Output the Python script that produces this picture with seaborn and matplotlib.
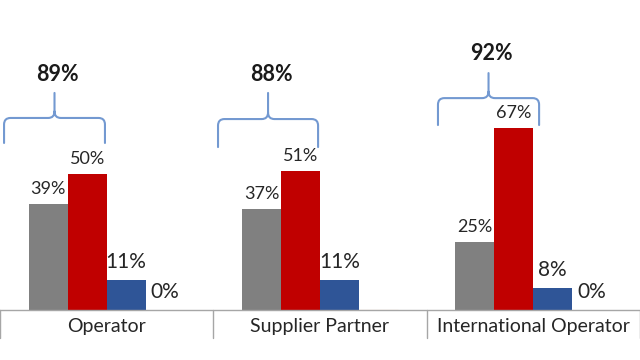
import matplotlib
matplotlib.use("Agg")
import matplotlib.pyplot as plt
import seaborn as sns
import pandas as pd
from matplotlib.path import Path
from matplotlib.patches import PathPatch
import matplotlib.transforms as mtransforms

# ---- data ----
categories = ["Operator", "Supplier Partner", "International Operator"]
series_names = ["Series 1", "Series 2", "Series 3", "Series 4"]
gray_vals = [39, 37, 25]
red_vals = [50, 51, 67]
blue_vals = [11, 11, 8]
fourth_vals = [0, 0, 0]
fourth_labels = ["0%", "", "0%"]
totals = [89, 88, 92]
colors = ["#808080", "#c00000", "#2f5597", "#f4b183"]

rows = []
for name, vals in zip(series_names, [gray_vals, red_vals, blue_vals, fourth_vals]):
    for c, v in zip(categories, vals):
        rows.append({"category": c, "series": name, "value": v})
df = pd.DataFrame(rows)

sns.set_style("white")
plt.rcParams["font.family"] = ["Lato", "DejaVu Sans"]

fig = plt.figure(figsize=(6.4, 3.6), dpi=100)
ax = fig.add_axes([0.0, 50 / 360, 1.0, 272 / 360])

sns.barplot(data=df, x="category", y="value", hue="series", order=categories,
            hue_order=series_names, palette=colors, width=0.73, saturation=1,
            errorbar=None, legend=False, linewidth=0, ax=ax)

ax.set_xlim(-0.5, 2.5)
ax.set_ylim(0, 100)
ax.set_xlabel("")
ax.set_ylabel("")
ax.set_yticks([])
for s in ["top", "right", "left"]:
    ax.spines[s].set_visible(False)
ax.spines["bottom"].set_color("#a6a6a6")
ax.spines["bottom"].set_linewidth(1.0)
ax.tick_params(axis="x", length=0, pad=5.5, labelsize=14, labelcolor="#262626")

# orange hairline for 4th series in middle group
cont4 = ax.containers[3]
for i, p in enumerate(cont4.patches):
    p.set_edgecolor("#f4b183" if i == 1 else "none")
    p.set_linewidth(0.8 if i == 1 else 0)

# value labels
lab_col = "#262626"
ax.bar_label(ax.containers[0], labels=[f"{v}%" for v in gray_vals], padding=5,
             fontsize=13, color=lab_col)
ax.bar_label(ax.containers[1], labels=[f"{v}%" for v in red_vals], padding=5,
             fontsize=13, color=lab_col)
ax.bar_label(ax.containers[2], labels=[f"{v}%" for v in blue_vals], padding=6,
             fontsize=15, color=lab_col)
ax.bar_label(ax.containers[3], labels=fourth_labels, padding=6,
             fontsize=15, color=lab_col)

# category separators
trans = mtransforms.blended_transform_factory(ax.transData, ax.transAxes)
for xb in [-0.5, 0.5, 1.5, 2.5]:
    ax.plot([xb, xb], [0, -28 / 272], transform=trans, color="#a6a6a6",
            lw=1.0, clip_on=False)


def brace(x0, x1, y_end, y_h, y_tip, rx=0.03, ry=2.4):
    xc = (x0 + x1) / 2
    verts = [
        (x0, y_end), (x0, y_h - ry),
        (x0, y_h), (x0 + rx, y_h),
        (xc - rx, y_h),
        (xc, y_h), (xc, y_h + ry),
        (xc, y_tip),
        (xc, y_h + ry),
        (xc, y_h), (xc + rx, y_h),
        (x1 - rx, y_h),
        (x1, y_h), (x1, y_h - ry),
        (x1, y_end),
    ]
    codes = [Path.MOVETO, Path.LINETO,
             Path.CURVE3, Path.CURVE3,
             Path.LINETO,
             Path.CURVE3, Path.CURVE3,
             Path.LINETO,
             Path.MOVETO,
             Path.CURVE3, Path.CURVE3,
             Path.LINETO,
             Path.CURVE3, Path.CURVE3,
             Path.LINETO]
    patch = PathPatch(Path(verts, codes), fill=False, edgecolor="#7399d1",
                      lw=1.5, clip_on=False, capstyle="round", joinstyle="round")
    ax.add_patch(patch)


brace_specs = [
    (-0.481, -0.008, 61.4, 70.6, 79.8),
    (0.522, 0.991, 59.9, 70.2, 79.8),
    (1.553, 2.027, 68.0, 77.9, 87.1),
]
text_y = [86.6, 86.6, 94.3]
for (x0, x1, ye, yh, yt), tot, ty in zip(brace_specs, totals, text_y):
    brace(x0, x1, ye, yh, yt)
    ax.text((x0 + x1) / 2 + 0.015, ty, f"{tot}%", ha="center", va="center",
            fontsize=15.5, fontweight="bold", color="#1a1a1a")

fig.savefig("out.png", dpi=100)
